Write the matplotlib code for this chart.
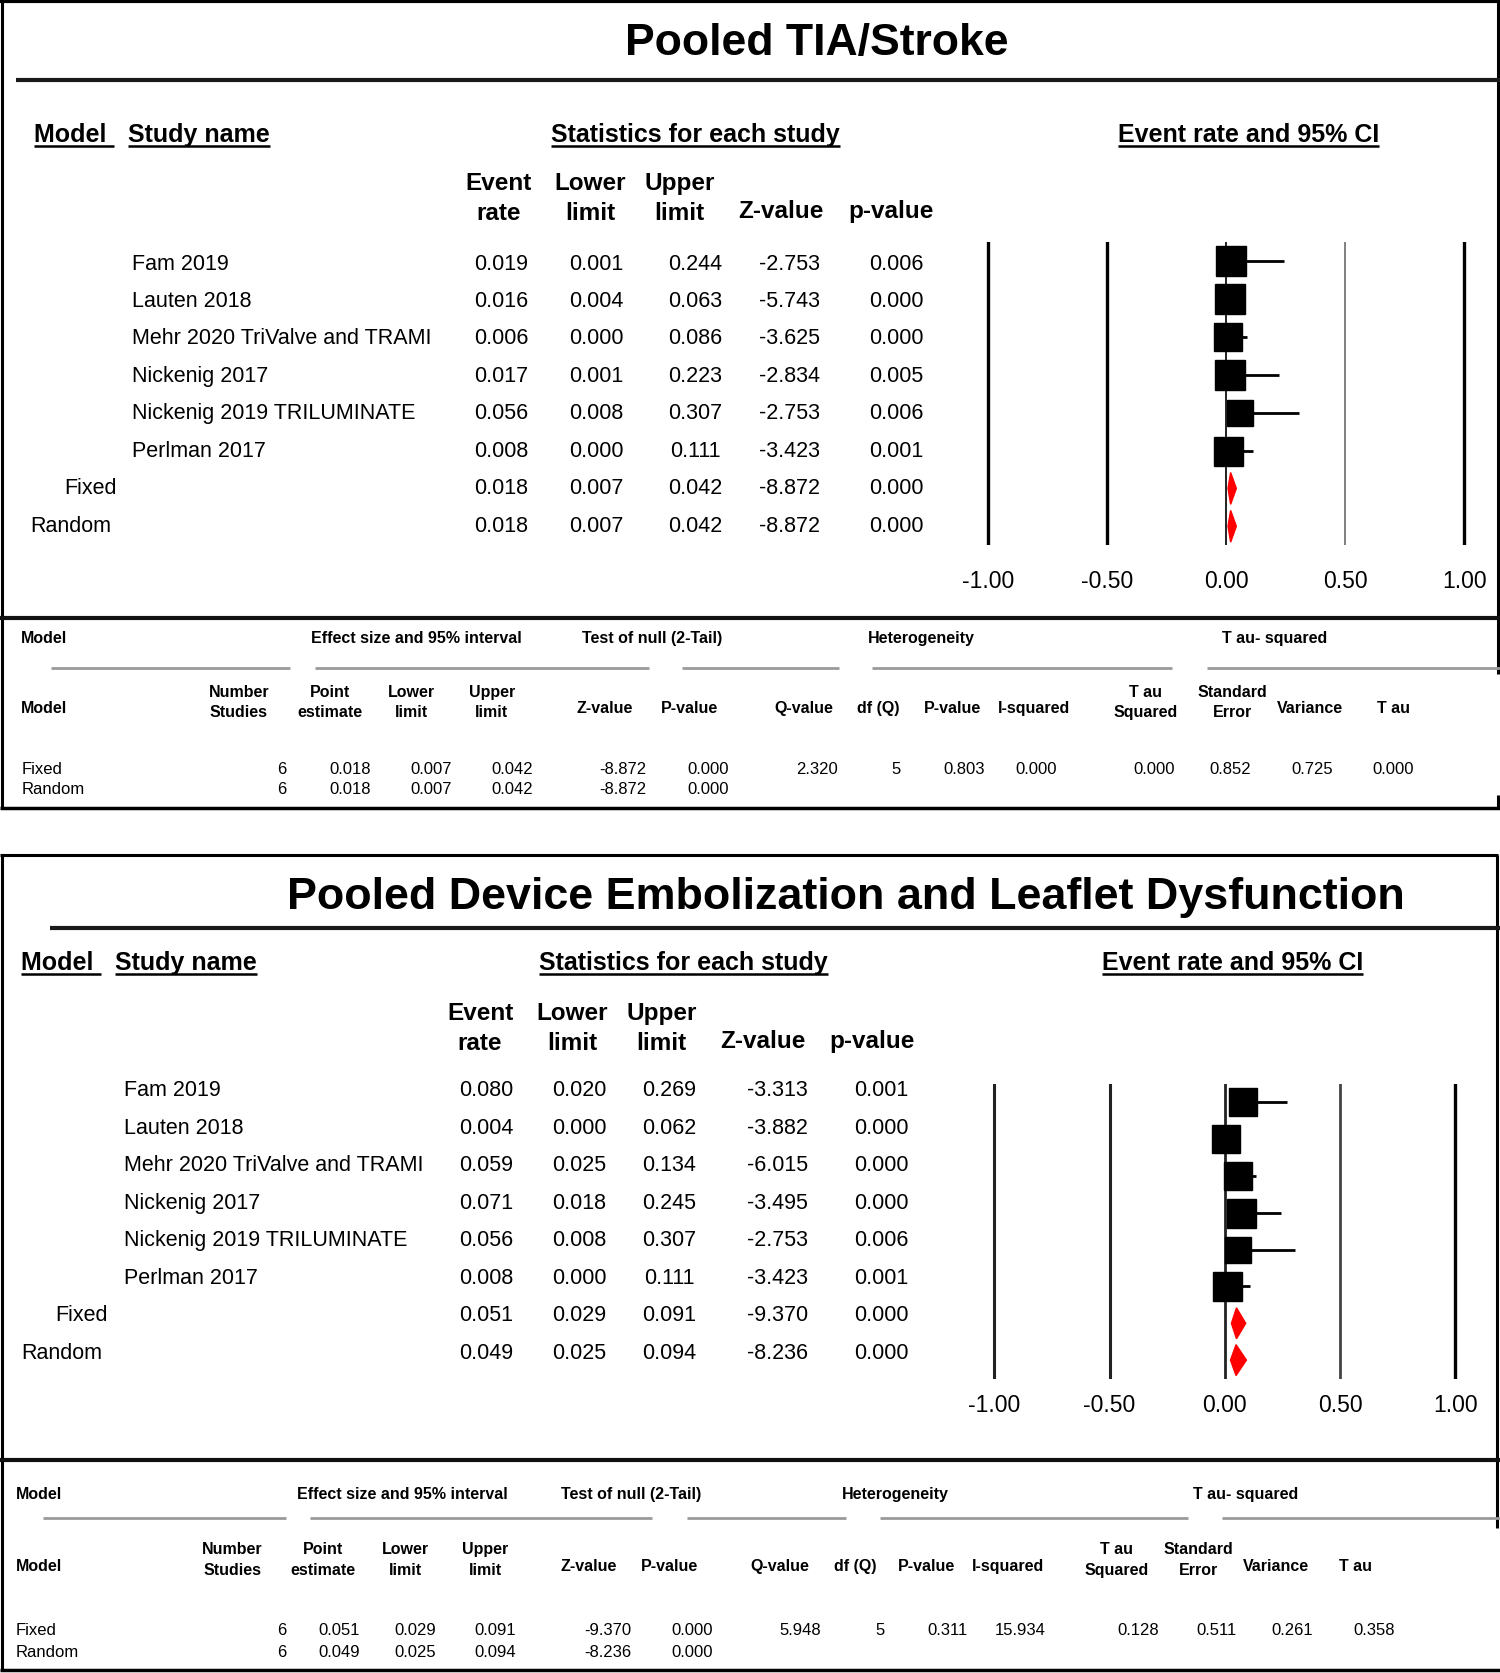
import matplotlib
matplotlib.use("Agg")
import matplotlib.pyplot as plt
from matplotlib.patches import Polygon

plt.rcParams['font.family'] = ['Liberation Sans', 'DejaVu Sans']

# layout is worked out in reference pixels (1406 x 1568), then scaled to the figure
W, H = 1406, 1568

# ---- data ----
studies = ["Fam 2019", "Lauten 2018", "Mehr 2020 TriValve and TRAMI",
           "Nickenig 2017", "Nickenig 2019 TRILUMINATE", "Perlman 2017"]
models = ["Fixed", "Random"]

# TIA / stroke
tia_rate = [0.019, 0.016, 0.006, 0.017, 0.056, 0.008]
tia_lower = [0.001, 0.004, 0.000, 0.001, 0.008, 0.000]
tia_upper = [0.244, 0.063, 0.086, 0.223, 0.307, 0.111]
tia_z = [-2.753, -5.743, -3.625, -2.834, -2.753, -3.423]
tia_p = [0.006, 0.000, 0.000, 0.005, 0.006, 0.001]
tia_pool_rate = [0.018, 0.018]
tia_pool_lower = [0.007, 0.007]
tia_pool_upper = [0.042, 0.042]
tia_pool_z = [-8.872, -8.872]
tia_pool_p = [0.000, 0.000]
tia_het = [2.320, 5, 0.803, 0.000]       # Q, df, p, I-squared
tia_tau = [0.000, 0.852, 0.725, 0.000]   # tau^2, SE, variance, tau

# device embolization and leaflet dysfunction
emb_rate = [0.080, 0.004, 0.059, 0.071, 0.056, 0.008]
emb_lower = [0.020, 0.000, 0.025, 0.018, 0.008, 0.000]
emb_upper = [0.269, 0.062, 0.134, 0.245, 0.307, 0.111]
emb_z = [-3.313, -3.882, -6.015, -3.495, -2.753, -3.423]
emb_p = [0.001, 0.000, 0.000, 0.000, 0.006, 0.001]
emb_pool_rate = [0.051, 0.049]
emb_pool_lower = [0.029, 0.025]
emb_pool_upper = [0.091, 0.094]
emb_pool_z = [-9.370, -8.236]
emb_pool_p = [0.000, 0.000]
emb_het = [5.948, 5, 0.311, 15.934]
emb_tau = [0.128, 0.511, 0.261, 0.358]

ticks = [-1.0, -0.5, 0.0, 0.5, 1.0]
tick_labels = ["-1.00", "-0.50", "0.00", "0.50", "1.00"]

fig = plt.figure(figsize=(15, 16.73), dpi=100)
bg = fig.add_axes([0, 0, 1, 1])
bg.set_xlim(0, W)
bg.set_ylim(H, 0)
bg.axis('off')

to_underline = []


def line(x0, x1, y0, y1, lw=2.2, color='black'):
    bg.plot([x0, x1], [y0, y1], color=color, lw=lw, solid_capstyle='butt')


def txt(x, y, s, size, bold=False, ha='center', va='center'):
    return bg.text(x, y, s, fontsize=size, fontweight='bold' if bold else 'normal',
                   ha=ha, va=va, color='black')


def forest(px_m1, px_p1, y_top, y_bot, lab_gap, rate, lower, upper,
           p_rate, p_lower, p_upper, box_px, line_styles):
    scale = (px_p1 - px_m1) / 2.0
    left = px_m1 - 0.1 * scale
    ax = fig.add_axes([left / W, 1 - y_bot / H, 2.2 * scale / W, (y_bot - y_top) / H])
    ax.set_xlim(-1.1, 1.1)
    ax.set_ylim(7.5, -0.5)
    ax.patch.set_alpha(0)
    for s in ax.spines.values():
        s.set_visible(False)
    ax.set_yticks([])
    ax.set_xticks(ticks)
    ax.set_xticklabels(tick_labels, fontsize=16.5)
    ax.tick_params(axis='x', length=0, pad=lab_gap)
    for t, (c, lw) in zip(ticks, line_styles):
        ax.axvline(t, color=c, lw=lw, zorder=1)
    n = len(rate)
    ax.hlines(range(n), lower, upper, color='black', lw=2.0, zorder=2)
    for i in range(n):
        ax.plot(rate[i], i, marker='s', ms=box_px[i] * 0.72, color='black',
                mec='black', zorder=3, ls='none')
    for j in range(len(p_rate)):
        yy = n + j
        d = Polygon([[p_lower[j], yy], [p_rate[j], yy - 0.42],
                     [p_upper[j], yy], [p_rate[j], yy + 0.42]],
                    closed=True, color='#ff0000', zorder=3)
        ax.add_patch(d)
    return ax


def study_table(L, rate, lower, upper, z, p, p_rate, p_lower, p_upper, p_z, p_p):
    # underlined section headers
    for s, x, ha in [("Model ", L['model_x'], 'left'), ("Study name", L['study_x'], 'left'),
                     ("Statistics for each study", L['stats_x'], 'center'),
                     ("Event rate and 95% CI", L['ci_x'], 'center')]:
        t = txt(x, L['hdr_y'], s, 18, bold=True, ha=ha, va='baseline')
        to_underline.append((t, L['hdr_y'] + 3.5))
    heads = [("Event", "rate"), ("Lower", "limit"), ("Upper", "limit"),
             ("", "Z-value"), ("", "p-value")]
    for (a, b), x in zip(heads, L['col_x']):
        if a:
            txt(x, L['col_y'][0], a, 17.5, bold=True)
        txt(x, L['col_y'][1] - (0 if a else 2), b, 17.5, bold=True)
    names = studies + models
    cols = [rate + p_rate, lower + p_lower, upper + p_upper, z + p_z, p + p_p]
    for i, nm in enumerate(names):
        y = L['row_y0'] + i * L['row_dy']
        if i < len(studies):
            txt(L['name_x'], y, nm, 15.5, ha='left')
        else:
            txt(L['fixed_x'] if nm == "Fixed" else L['random_x'], y, nm, 15.5, ha='left')
        for col, x in zip(cols, L['val_x']):
            txt(x, y, "%.3f" % col[i], 15.5)


def summary_table(L, p_rate, p_lower, p_upper, p_z, p_p, het, tau):
    line(0, W, L['sep_y'], L['sep_y'], lw=3.0, color='#111111')
    txt(L['sum_model_x'], L['sum_hdr_y'], "Model", 11.5, bold=True, ha='left')
    for s, x in zip(["Effect size and 95% interval", "Test of null (2-Tail)",
                     "Heterogeneity", "T au- squared"], L['grp_x']):
        txt(x, L['sum_hdr_y'], s, 11.5, bold=True)
    for x0, x1 in L['grp_lines']:
        line(x0, x1, L['sum_line_y'], L['sum_line_y'], lw=2.0, color='#9a9a9a')
    txt(L['sum_model_x'], L['sum_single'], "Model", 11.5, bold=True, ha='left')
    heads = [("Number", "Studies"), ("Point", "estimate"), ("Lower", "limit"),
             ("Upper", "limit"), ("", "Z-value"), ("", "P-value"), ("", "Q-value"),
             ("", "df (Q)"), ("", "P-value"), ("", "I-squared"), ("T au", "Squared"),
             ("Standard", "Error"), ("", "Variance"), ("", "T au")]
    for (a, b), x in zip(heads, L['h2_x']):
        if a:
            txt(x, L['sum_h2'][0], a, 11.5, bold=True)
            txt(x, L['sum_h2'][1], b, 11.5, bold=True)
        else:
            txt(x, L['sum_single'], b, 11.5, bold=True)
    n = len(studies)
    for j, m in enumerate(models):
        y = L['sum_rows'][j]
        txt(L['sum_model_x'], y, m, 12, ha='left')
        vals = ["%d" % n, "%.3f" % p_rate[j], "%.3f" % p_lower[j], "%.3f" % p_upper[j],
                "%.3f" % p_z[j], "%.3f" % p_p[j]]
        if j == 0:
            vals += ["%.3f" % het[0], "%d" % het[1], "%.3f" % het[2], "%.3f" % het[3]]
            vals += ["%.3f" % v for v in tau]
        for v, x in zip(vals, L['val_end']):
            txt(x, y, v, 12, ha='right')


TOP = dict(model_x=32, study_x=120, stats_x=652, ci_x=1170, hdr_y=133,
           col_x=[467, 553, 637, 732, 835], col_y=(172, 200),
           row_y0=247.5, row_dy=35.1, name_x=124, fixed_x=60, random_x=28,
           val_x=[470, 559, 652, 740, 840],
           sep_y=579, sum_model_x=20, sum_hdr_y=598, sum_line_y=626,
           grp_x=[390, 611, 864, 1195],
           grp_lines=[(48, 272), (295, 608), (639, 786), (817, 1099), (1131, 1406)],
           sum_h2=(649, 668), sum_single=664.5,
           h2_x=[224, 309, 386, 461, 567, 646, 753, 823, 893, 969, 1074, 1155, 1228, 1306],
           val_end=[268, 347.5, 424, 500, 606, 683, 785, 844, 923, 991, 1101, 1173, 1249, 1325],
           sum_rows=(721, 739.5))

BOT = dict(model_x=20, study_x=108, stats_x=641, ci_x=1155, hdr_y=909,
           col_x=[450, 536, 620, 715, 817], col_y=(950, 978),
           row_y0=1022.5, row_dy=35.1, name_x=116, fixed_x=52, random_x=20,
           val_x=[456, 543, 627, 729, 826],
           sep_y=1368.5, sum_model_x=15, sum_hdr_y=1401, sum_line_y=1422.5,
           grp_x=[377, 592, 839, 1168],
           grp_lines=[(40, 268), (291, 611), (644, 793), (825, 1114), (1145, 1406)],
           sum_h2=(1452, 1471.5), sum_single=1468.5,
           h2_x=[218, 303, 380, 455, 552, 628, 731, 802, 868, 945, 1047, 1123, 1196, 1271],
           val_end=[268, 337, 409, 484, 592, 668, 770, 829.5, 907, 980, 1086, 1159.5, 1231, 1307.5],
           sum_rows=(1528, 1549))

# ---- top panel: pooled TIA/stroke ----
line(0, W, 1, 1, lw=3)
line(2, 2, 0, 758)
line(1404, 1404, 0, 632)
line(1404, 1404, 745, 758)
line(0, W, 757, 757, lw=2.5)
txt(766, 41, "Pooled TIA/Stroke", 32, bold=True)
line(15, W, 75, 75, lw=3, color='#1a1a1a')
study_table(TOP, tia_rate, tia_lower, tia_upper, tia_z, tia_p,
            tia_pool_rate, tia_pool_lower, tia_pool_upper, tia_pool_z, tia_pool_p)
forest(926.5, 1372.5, 227, 511, 17.5, tia_rate, tia_lower, tia_upper,
       tia_pool_rate, tia_pool_lower, tia_pool_upper,
       [30, 30, 28, 30, 27, 29],
       [('black', 2.4), ('black', 2.4), ('#222222', 1.4), ('#808080', 1.4), ('black', 2.4)])
summary_table(TOP, tia_pool_rate, tia_pool_lower, tia_pool_upper, tia_pool_z,
              tia_pool_p, tia_het, tia_tau)

# ---- bottom panel: device embolization and leaflet dysfunction ----
line(0, 1404, 801, 801, lw=2.2)
line(2, 2, 801, 1566)
line(1403, 1403, 801, 1432)
line(0, W, 1565, 1565, lw=2.5)
txt(793, 841, "Pooled Device Embolization and Leaflet Dysfunction", 32.3, bold=True)
line(47, W, 870, 870, lw=3, color='#1a1a1a')
study_table(BOT, emb_rate, emb_lower, emb_upper, emb_z, emb_p,
            emb_pool_rate, emb_pool_lower, emb_pool_upper, emb_pool_z, emb_pool_p)
forest(932, 1364, 1016, 1292, 11.5, emb_rate, emb_lower, emb_upper,
       emb_pool_rate, emb_pool_lower, emb_pool_upper,
       [28, 28, 28, 29, 27, 29],
       [('#222222', 2.2), ('#222222', 2.2), ('#222222', 2.0), ('#444444', 2.0), ('black', 2.4)])
summary_table(BOT, emb_pool_rate, emb_pool_lower, emb_pool_upper, emb_pool_z,
              emb_pool_p, emb_het, emb_tau)

# underline the section headers once text sizes are known
fig.canvas.draw()
inv = bg.transData.inverted()
for t, yline in to_underline:
    bb = t.get_window_extent()
    x0 = inv.transform((bb.x0, bb.y0))[0]
    x1 = inv.transform((bb.x1, bb.y0))[0]
    line(x0, x1, yline, yline, lw=1.8)

fig.savefig("out.png", dpi=100)
